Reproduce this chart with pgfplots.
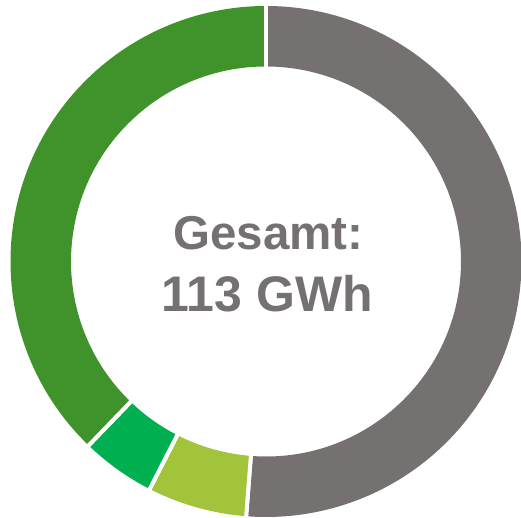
\documentclass[border=0pt]{standalone}
\usepackage{pgfplots}
\pgfplotsset{compat=1.18}
\usepackage{pgfplotstable}
\usepackage{fontspec}
\setmainfont{Liberation Sans}
\definecolor{cgray}{HTML}{767171}
\definecolor{cdark}{HTML}{40922A}
\definecolor{cgreen}{HTML}{00B050}
\definecolor{clight}{HTML}{A2C43A}
\pgfplotstableread{
label value color
S1 57.9 cgray
S2 7.1 clight
S3 5.3 cgreen
S4 42.7 cdark
}\data
% precompute angles from the table
\pgfplotstablegetrowsof{\data}
\pgfmathtruncatemacro\N{\pgfplotsretval-1}
\xdef\total{0}
\foreach \i in {0,...,\N}{
  \pgfplotstablegetelem{\i}{value}\of\data
  \pgfmathsetmacro\t{\total+\pgfplotsretval}\xdef\total{\t}
}
\xdef\cum{0}
\foreach \i in {0,...,\N}{
  \pgfplotstablegetelem{\i}{value}\of\data \let\v\pgfplotsretval
  \pgfplotstablegetelem{\i}{color}\of\data
  \expandafter\xdef\csname segc\i\endcsname{\pgfplotsretval}
  \pgfmathsetmacro\a{90-360*(\cum/\total)}
  \pgfmathsetmacro\b{90-360*((\cum+\v)/\total)}
  \expandafter\xdef\csname sega\i\endcsname{\a}
  \expandafter\xdef\csname segb\i\endcsname{\b}
  \pgfmathsetmacro\nc{\cum+\v}\xdef\cum{\nc}
}
\begin{document}
\begin{tikzpicture}
\begin{axis}[hide axis, x=1pt, y=1pt, xmin=0, xmax=521, ymin=0, ymax=517,
  clip=false, scale only axis]
\addplot[draw=none, forget plot] coordinates {(0,0) (521,517)};
\pgfplotsextra{
  \begin{pgfinterruptboundingbox}
  \begin{scope}[shift={(axis cs:266,255.5)}]
  \foreach \i in {0,...,\N}{
    \edef\a{\csname sega\i\endcsname}
    \edef\b{\csname segb\i\endcsname}
    \edef\c{\csname segc\i\endcsname}
    \fill[fill=\c] (\a:255.5pt) arc[start angle=\a, end angle=\b, radius=255.5pt]
      -- (\b:195pt) arc[start angle=\b, end angle=\a, radius=195pt] -- cycle;
    \draw[white, line width=4pt] (\a:190pt) -- (\a:260pt);
    \draw[white, line width=4pt] (\b:190pt) -- (\b:260pt);
  }
  \end{scope}
  \end{pgfinterruptboundingbox}
  \path (rel axis cs:0,0) rectangle (rel axis cs:1,1);
}
\node[text=cgray, anchor=base, inner sep=0pt, font=\bfseries\fontsize{47.5}{50}\selectfont]
  at (axis cs:268.5,267) {Gesamt:};
\node[text=cgray, anchor=base, inner sep=0pt, font=\bfseries\fontsize{50}{56}\selectfont]
  at (axis cs:267.5,206) {113 GWh};
\end{axis}
\end{tikzpicture}
\end{document}
